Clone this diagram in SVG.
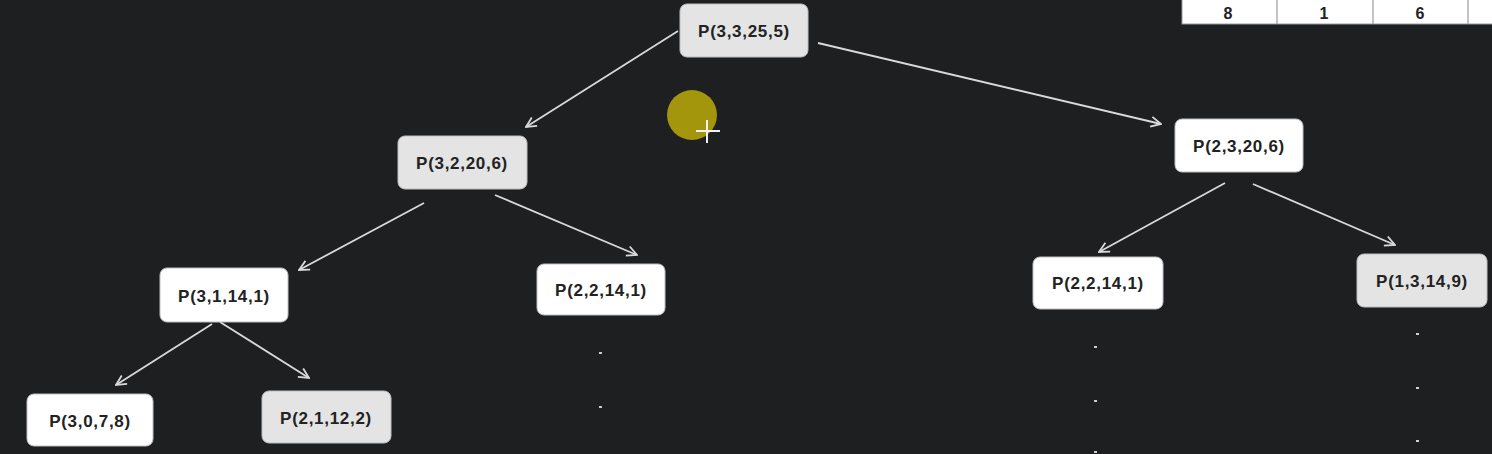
<svg xmlns="http://www.w3.org/2000/svg" width="1492" height="454" viewBox="0 0 1492 454">
<style>
.bg{fill:#1d1f21}
.n rect{stroke:#bfbfbf;stroke-width:1}
.w rect{fill:#ffffff}
.g rect{fill:#e4e4e4}
.n text{font-family:"Liberation Sans",Arial,sans-serif;font-weight:bold;font-size:17px;letter-spacing:0.7px;fill:#222;text-anchor:middle}
.c line{stroke:#d9d9d9;stroke-width:1.8;marker-end:url(#ah)}
.dot{fill:#cfcfcf}
.tb text{font-family:"Liberation Sans",Arial,sans-serif;font-weight:bold;font-size:16px;fill:#222;text-anchor:middle}
</style>
<defs>
<marker id="ah" viewBox="0 0 12 12" refX="11" refY="6" markerWidth="12" markerHeight="12" markerUnits="userSpaceOnUse" orient="auto">
<path d="M1,1 L11,6 L1,11" fill="none" stroke="#d9d9d9" stroke-width="1.8"/>
</marker>
</defs>
<rect class="bg" x="0" y="0" width="1492" height="454"/>

<g id="table" class="tb">
<rect x="1182" y="-2" width="312" height="26" fill="#ffffff" stroke="#9a9a9a" stroke-width="1"/>
<line x1="1277" y1="0" x2="1277" y2="24" stroke="#9a9a9a" stroke-width="1.2"/>
<line x1="1373" y1="0" x2="1373" y2="24" stroke="#9a9a9a" stroke-width="1.2"/>
<line x1="1468" y1="0" x2="1468" y2="24" stroke="#9a9a9a" stroke-width="1.2"/>
<text x="1228" y="19">8</text>
<text x="1324" y="19">1</text>
<text x="1420" y="19">6</text>
</g>

<g id="connectors" class="c">
<line x1="678" y1="31" x2="526" y2="127"/>
<line x1="818" y1="43" x2="1161" y2="124"/>
<line x1="424" y1="203" x2="299" y2="270"/>
<line x1="495" y1="195" x2="637" y2="255"/>
<line x1="212" y1="324" x2="116" y2="385"/>
<line x1="220" y1="322" x2="309" y2="378"/>
<line x1="1225" y1="183" x2="1099" y2="252"/>
<line x1="1253" y1="184" x2="1395" y2="245"/>
</g>

<g id="n_root" class="n g"><rect x="680" y="4" width="128" height="53" rx="7"/><text x="744" y="37">P(3,3,25,5)</text></g>
<g id="n_3_2_20_6" class="n g"><rect x="398" y="136" width="129" height="53" rx="7"/><text x="462" y="169">P(3,2,20,6)</text></g>
<g id="n_2_3_20_6" class="n w"><rect x="1175" y="119" width="128" height="53" rx="7"/><text x="1239" y="152">P(2,3,20,6)</text></g>
<g id="n_3_1_14_1" class="n w"><rect x="160" y="268" width="128" height="54" rx="7"/><text x="224" y="302">P(3,1,14,1)</text></g>
<g id="n_2_2_14_1a" class="n w"><rect x="537" y="264" width="128" height="51" rx="7"/><text x="601" y="296">P(2,2,14,1)</text></g>
<g id="n_2_2_14_1b" class="n w"><rect x="1033" y="257" width="130" height="52" rx="7"/><text x="1098" y="289">P(2,2,14,1)</text></g>
<g id="n_1_3_14_9" class="n g"><rect x="1357" y="254" width="130" height="53" rx="7"/><text x="1422" y="287">P(1,3,14,9)</text></g>
<g id="n_3_0_7_8" class="n w"><rect x="27" y="394" width="126" height="52" rx="7"/><text x="90" y="427">P(3,0,7,8)</text></g>
<g id="n_2_1_12_2" class="n g"><rect x="262" y="391" width="129" height="52" rx="7"/><text x="326" y="424">P(2,1,12,2)</text></g>

<g id="dots">
<rect class="dot" x="599" y="352" width="3" height="2"/>
<rect class="dot" x="599" y="406" width="3" height="2"/>
<rect class="dot" x="1094" y="346" width="3" height="2"/>
<rect class="dot" x="1094" y="400" width="3" height="2"/>
<rect class="dot" x="1094" y="451" width="3" height="2"/>
<rect class="dot" x="1416" y="333" width="3" height="2"/>
<rect class="dot" x="1416" y="387" width="3" height="2"/>
<rect class="dot" x="1416" y="440" width="3" height="2"/>
</g>

<g id="cursor">
<circle cx="692" cy="115" r="25" fill="#a3960c"/>
<line x1="696" y1="131" x2="720" y2="131" stroke="#f2f2f2" stroke-width="2"/>
<line x1="707" y1="120" x2="707" y2="143" stroke="#f2f2f2" stroke-width="2"/>
</g>
</svg>
